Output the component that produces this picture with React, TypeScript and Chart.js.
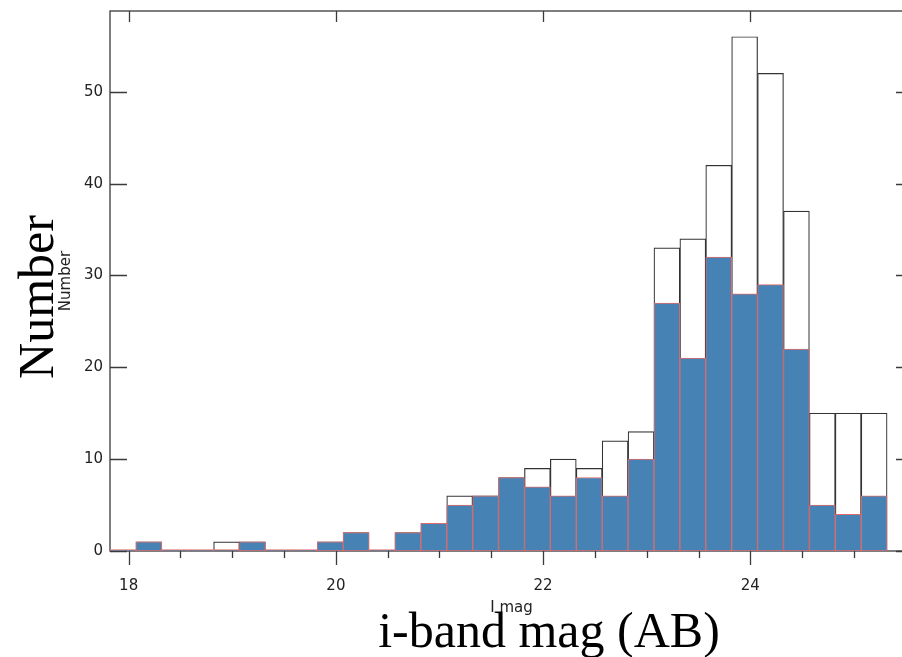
import React, { useEffect, useRef } from "react";
import { Chart, registerables } from "chart.js";

Chart.register(...registerables);

// Histogram bins (centres, bin width 0.25 mag)
const binCenters = [
  17.945, 18.195, 18.445, 18.695, 18.945, 19.195, 19.445, 19.695, 19.945, 20.195,
  20.445, 20.695, 20.945, 21.195, 21.445, 21.695, 21.945, 22.195, 22.445, 22.695,
  22.945, 23.195, 23.445, 23.695, 23.945, 24.195, 24.445, 24.695, 24.945, 25.195,
];
// All objects (white bars, black outline)
const totalCounts = [
  0, 1, 0, 0, 1, 1, 0, 0, 1, 2,
  0, 2, 3, 6, 6, 8, 9, 10, 9, 12,
  13, 33, 34, 42, 56, 52, 37, 15, 15, 15,
];
// Subsample (blue bars, red outline)
const subCounts = [
  0, 1, 0, 0, 0, 1, 0, 0, 1, 2,
  0, 2, 3, 5, 6, 8, 7, 6, 8, 6,
  10, 27, 21, 32, 28, 29, 22, 5, 4, 6,
];
const xMajorLabels = [18, 20, 22, 24];
const yTickValues = [0, 10, 20, 30, 40, 50];

const X_MIN = 17.82;
const X_MAX = 25.57;
const Y_MAX = 58.8;

const SMALL_FONT = "15px 'DejaVu Sans', sans-serif";
const BIG_FONT = "50px 'Liberation Serif', 'Times New Roman', serif";

const framePlugin = {
  id: "idlFrame",
  beforeDatasetsDraw(chart: any) {
    const { ctx, chartArea } = chart;
    const xs = chart.scales.x;
    const ys = chart.scales.y;
    const { left, right, top, bottom } = chartArea;
    ctx.save();
    ctx.strokeStyle = "#3a3a3a";
    ctx.lineWidth = 1.3;
    ctx.strokeRect(left, top, right - left, bottom - top);
    ctx.beginPath();
    // bottom ticks (outward), top ticks (inward, majors only)
    for (const t of xs.ticks) {
      const px = Math.round(xs.getPixelForValue(t.value)) + 0.5;
      const major = xMajorLabels.includes(t.value);
      ctx.moveTo(px, bottom);
      ctx.lineTo(px, bottom + (major ? 14 : 7));
      if (major) {
        ctx.moveTo(px, top);
        ctx.lineTo(px, top + 11);
      }
    }
    // left and right ticks (inward)
    for (const v of yTickValues) {
      const py = Math.round(ys.getPixelForValue(v)) + 0.5;
      ctx.moveTo(left, py);
      ctx.lineTo(left + 17, py);
      ctx.moveTo(right, py);
      ctx.lineTo(right - 17, py);
    }
    ctx.stroke();
    ctx.restore();
  },
  afterDraw(chart: any) {
    const { ctx, chartArea } = chart;
    const cx = (chartArea.left + chartArea.right) / 2;
    const cy = (chartArea.top + chartArea.bottom) / 2;
    ctx.save();
    // small axis titles
    ctx.fillStyle = "#222";
    ctx.font = SMALL_FONT;
    ctx.textAlign = "center";
    ctx.textBaseline = "alphabetic";
    ctx.fillText("I mag", cx, 612);
    ctx.save();
    ctx.translate(70, cy);
    ctx.rotate(-Math.PI / 2);
    ctx.fillText("Number", 0, 0);
    ctx.restore();
    // big overlay titles
    ctx.fillStyle = "#000";
    ctx.font = BIG_FONT;
    ctx.fillText("i-band mag (AB)", 549, 647);
    ctx.save();
    ctx.translate(53, 297);
    ctx.rotate(-Math.PI / 2);
    ctx.fillText("Number", 0, 0);
    ctx.restore();
    ctx.restore();
  },
};

export default function App() {
  const canvasRef = useRef<HTMLCanvasElement | null>(null);

  useEffect(() => {
    if (!canvasRef.current) return;
    const chart = new Chart(canvasRef.current, {
      type: "bar",
      data: {
        datasets: [
          {
            label: "sub",
            data: binCenters.map((x, i) => ({ x, y: subCounts[i] })),
            backgroundColor: "#4682B4",
            borderColor: "#e06b6b",
            borderWidth: 1,
            borderSkipped: false,
            grouped: false,
            barPercentage: 1,
            categoryPercentage: 1,
            minBarLength: 1.5,
            order: 0,
          } as any,
          {
            label: "all",
            data: binCenters.map((x, i) => ({ x, y: totalCounts[i] })),
            backgroundColor: "#ffffff",
            borderColor: "#333333",
            borderWidth: 1.2,
            borderSkipped: false,
            grouped: false,
            barPercentage: 1,
            categoryPercentage: 1,
            order: 1,
          } as any,
        ],
      },
      options: {
        responsive: false,
        animation: false,
        devicePixelRatio: 1,
        layout: { padding: { top: 11, right: 17, left: 0, bottom: 0 } },
        plugins: {
          legend: { display: false },
          tooltip: { enabled: false },
        },
        scales: {
          x: {
            type: "linear",
            min: X_MIN,
            max: X_MAX,
            offset: false,
            grid: { display: false, drawTicks: false },
            border: { display: false },
            ticks: {
              stepSize: 0.5,
              includeBounds: false,
              autoSkip: false,
              maxRotation: 0,
              padding: 26,
              color: "#222",
              font: { family: "'DejaVu Sans', sans-serif", size: 15 },
              callback: (v: any) => (xMajorLabels.includes(Number(v)) ? String(v) : ""),
            },
            afterFit: (s: any) => {
              s.height = 106;
              s.paddingLeft = 0;
              s.paddingRight = 0;
            },
          },
          y: {
            type: "linear",
            min: 0,
            max: Y_MAX,
            grid: { display: false, drawTicks: false },
            border: { display: false },
            ticks: {
              stepSize: 10,
              includeBounds: false,
              padding: 7,
              color: "#222",
              font: { family: "'DejaVu Sans', sans-serif", size: 15 },
            },
            afterFit: (s: any) => {
              s.width = 110;
              s.paddingTop = 0;
              s.paddingBottom = 0;
            },
          },
        },
      },
      plugins: [framePlugin],
    } as any);
    return () => chart.destroy();
  }, []);

  return (
    <div
      style={{
        position: "fixed",
        left: 0,
        top: 0,
        width: 902,
        height: 657,
        overflow: "hidden",
        background: "#fff",
      }}
    >
      <canvas ref={canvasRef} width={930} height={657} style={{ display: "block" }} />
    </div>
  );
}
